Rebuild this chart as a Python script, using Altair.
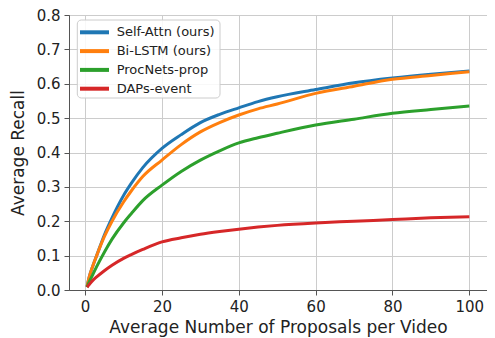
import altair as alt
import pandas as pd

proposals = [0.5, 1, 2, 3, 5, 7, 10, 12, 15, 20, 25, 30, 35, 40, 45, 50, 60, 70, 80, 90, 100]
series_names = ["Self-Attn (ours)", "Bi-LSTM (ours)", "ProcNets-prop", "DAPs-event"]
self_attn = [0.01, 0.035, 0.07, 0.1, 0.16, 0.21, 0.275, 0.31, 0.356, 0.412, 0.452, 0.487, 0.511, 0.53, 0.548, 0.562, 0.583, 0.603, 0.617, 0.628, 0.637]
bi_lstm = [0.01, 0.035, 0.07, 0.1, 0.155, 0.2, 0.256, 0.288, 0.33, 0.378, 0.423, 0.46, 0.487, 0.509, 0.527, 0.541, 0.572, 0.593, 0.613, 0.624, 0.635]
procnets = [0.008, 0.022, 0.045, 0.068, 0.11, 0.148, 0.195, 0.222, 0.26, 0.305, 0.345, 0.378, 0.405, 0.428, 0.443, 0.456, 0.48, 0.497, 0.514, 0.525, 0.535]
daps = [0.008, 0.015, 0.028, 0.038, 0.056, 0.072, 0.092, 0.103, 0.118, 0.14, 0.152, 0.162, 0.17, 0.177, 0.183, 0.188, 0.195, 0.2, 0.205, 0.21, 0.213]
colors = ["#1f77b4", "#ff7f0e", "#2ca02c", "#d62728"]
x_ticks = [0, 20, 40, 60, 80, 100]
y_ticks = [0.0, 0.1, 0.2, 0.3, 0.4, 0.5, 0.6, 0.7, 0.8]

rows = []
for name, vals in zip(series_names, [self_attn, bi_lstm, procnets, daps]):
    for x, v in zip(proposals, vals):
        rows.append({"x": x, "recall": v, "method": name})
df = pd.DataFrame(rows)
legend_df = pd.DataFrame({"method": series_names, "row": list(range(len(series_names)))})
box_df = pd.DataFrame({"k": [0]})

font = "DejaVu Sans"
color_scale = alt.Scale(domain=series_names, range=colors)

lines = alt.Chart(df).mark_line(strokeWidth=3, clip=True, interpolate="monotone").encode(
    x=alt.X("x:Q", scale=alt.Scale(domain=[-4.2, 104.6], nice=False, zero=False),
            axis=alt.Axis(values=x_ticks, title="Average Number of Proposals per Video", format="d")),
    y=alt.Y("recall:Q", scale=alt.Scale(domain=[0, 0.8], nice=False),
            axis=alt.Axis(values=y_ticks, format=".1f", title="Average Recall")),
    color=alt.Color("method:N", scale=color_scale, legend=None),
    order=alt.Order("x:Q"),
    detail="method:N",
)

box = alt.Chart(box_df).mark_rect(fill="white", fillOpacity=0.85, stroke="#cccccc",
                                  strokeWidth=1, cornerRadius=4).encode(
    x=alt.value(8.3), x2=alt.value(151), y=alt.value(5), y2=alt.value(83)
)

row_y = alt.Y("row:Q", scale=alt.Scale(domain=[0, 3], range=[17.3, 73.7]), axis=None)
leg_lines = alt.Chart(legend_df).mark_rule(strokeWidth=4).encode(
    x=alt.value(11), x2=alt.value(40), y=row_y,
    color=alt.Color("method:N", scale=color_scale, legend=None),
)
leg_text = alt.Chart(legend_df).mark_text(align="left", baseline="middle", font=font,
                                          fontSize=13, color="#222").encode(
    x=alt.value(47.7), y=row_y, text="method:N"
)

chart = alt.layer(lines, box, leg_lines, leg_text).resolve_scale(y="independent").properties(
    width=418, height=275,
    autosize=alt.AutoSizeParams(type="none"),
    padding={"left": 61, "top": 7, "right": 0, "bottom": 47},
).configure_view(
    stroke="#555555", strokeWidth=1
).configure_axis(
    grid=True, gridColor="#cccccc", gridWidth=1,
    domainColor="#555555", tickColor="#555555", tickSize=5,
    labelFont=font, labelFontSize=15, labelColor="#222",
    titleFont=font, titleFontSize=17, titleFontWeight="normal", titleColor="#222",
    labelPadding=4,
).configure_axisX(titlePadding=5).configure_axisY(titlePadding=9)

chart.save("out.html", embed_options={"renderer": "svg", "actions": False})
